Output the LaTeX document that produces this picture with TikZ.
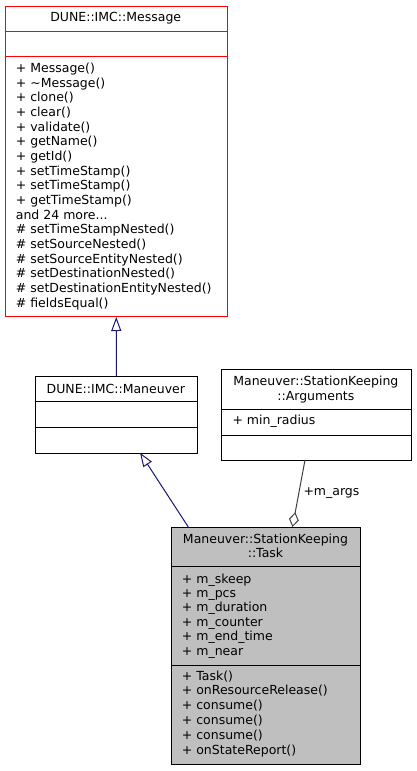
\documentclass[tikz,border=0pt]{standalone}
\usepackage{fontspec}
\setmainfont{DejaVu Sans}
\usetikzlibrary{arrows.meta}
\definecolor{edgeblue}{HTML}{191970}
\definecolor{aggr}{HTML}{404040}
\definecolor{taskgray}{HTML}{BFBFBF}
\newcommand\mythreedots{...}
\begin{document}
\begin{tikzpicture}[x=1pt,y=-1pt,
  box/.style={draw, line width=1pt, inner sep=0pt, anchor=north west},
  txt/.style={anchor=base west, inner sep=0pt, font=\fontsize{12.5}{15}\selectfont},
  ttl/.style={anchor=base, inner sep=0pt, font=\fontsize{12.5}{15}\selectfont},
  inh/.style={edgeblue, line width=1pt, -{Triangle[open, length=14pt, width=10pt]}},
  agg/.style={aggr, line width=1pt, -{Diamond[open, length=15pt, width=10pt]}}]
\useasboundingbox (0,0) rectangle (416,771);
% Message
\node[box, draw=red, fill=white, minimum width=222.5pt, minimum height=310pt] (msg) at (4.5,6) {};
\draw[red, line width=1pt] (4.5,31.3) -- (227,31.3);
\draw[red, line width=1pt] (4.5,56.7) -- (227,56.7);
\node[ttl] (msgt) at (115.7,21.8) {DUNE::IMC::Message};
\foreach \t [count=\i from 0] in {+ Message(),+ \textasciitilde Message(),+ clone(),+ clear(),+ validate(),+ getName(),+ getId(),+ setTimeStamp(),+ setTimeStamp(),+ getTimeStamp(),and 24 more\mythreedots,\# setTimeStampNested(),\# setSourceNested(),\# setSourceEntityNested(),\# setDestinationNested(),\# setDestinationEntityNested(),\# fieldsEqual()}
  \node[txt] (msgl\i) at (15.7,{72.6+\i*14.65}) {\t};
% Maneuver
\node[box, minimum width=162.3pt, minimum height=76.4pt] (man) at (34.7,376.3) {};
\draw[line width=1pt] (34.7,401.7) -- (197,401.7);
\draw[line width=1pt] (34.7,427) -- (197,427);
\node[ttl] (mant) at (115.85,393.5) {DUNE::IMC::Maneuver};
% Arguments
\node[box, minimum width=189.7pt, minimum height=90.7pt] (args) at (221,369.3) {};
\draw[line width=1pt] (221,409) -- (410.7,409);
\draw[line width=1pt] (221,435) -- (410.7,435);
\node[ttl] (argt1) at (315.85,385.2) {Maneuver::StationKeeping};
\node[ttl] (argt2) at (315.85,400.5) {::Arguments};
\node[txt] (arga) at (232.3,424.8) {+ min\_radius};
% Task
\node[box, fill=taskgray, minimum width=189pt, minimum height=237pt] (task) at (171,527) {};
\draw[line width=1pt] (171,566.7) -- (360,566.7);
\draw[line width=1pt] (171,665) -- (360,665);
\node[ttl] (taskt1) at (265.5,543.5) {Maneuver::StationKeeping};
\node[ttl] (taskt2) at (265.5,557.2) {::Task};
\foreach \t [count=\i from 0] in {+ m\_skeep,+ m\_pcs,+ m\_duration,+ m\_counter,+ m\_end\_time,+ m\_near}
  \node[txt] (taska\i) at (181.7,{583.3+\i*14.34}) {\t};
\foreach \t [count=\i from 0] in {+ Task(),+ onResourceRelease(),+ consume(),+ consume(),+ consume(),+ onStateReport()}
  \node[txt] (taskm\i) at (181.7,{680+\i*14.87}) {\t};
% edges
\draw[inh] (man.north) -- (msg.south);
\coordinate (tmA) at (188.3,527);
\coordinate (mnB) at (140,452.7);
\draw[inh] (tmA) -- (mnB);
\coordinate (agA) at (305,460);
\coordinate (tkB) at (292.5,527);
\draw[agg] (agA) -- (tkB);
\node[txt, anchor=west] (lbl) at (303.3,492.7) {+m\_args};
\end{tikzpicture}
\end{document}
